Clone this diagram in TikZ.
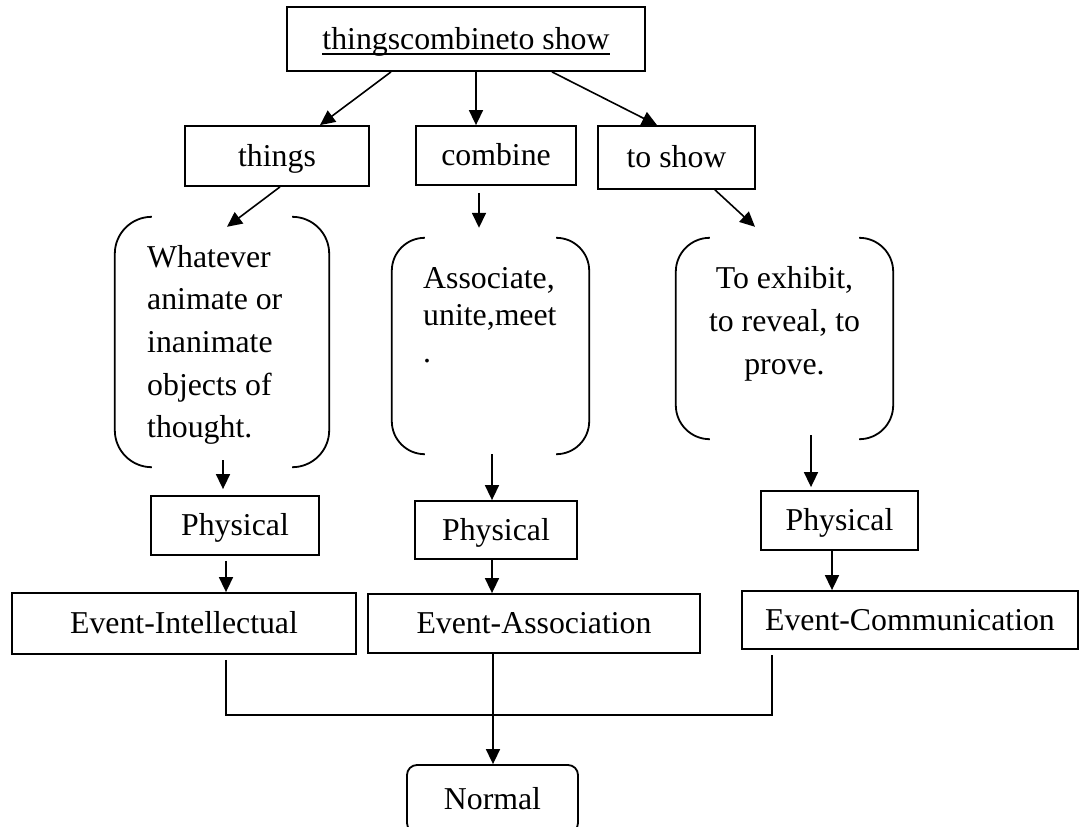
\documentclass[tikz,border=0pt]{standalone}
\usepackage{fontspec}
\setmainfont{Liberation Serif}
\usetikzlibrary{arrows.meta}

% underlined title text
\newsavebox\ulbox
\newcommand\ulinetext[1]{\sbox\ulbox{#1}\rlap{\rule[-5.8pt]{\wd\ulbox}{1.6pt}}\usebox\ulbox}

% open "bracket" frame: two rounded side pieces around a node
\newcommand\bracketpair[2]{%
  \draw[brk] ([xshift=#2]#1.north west) arc[start angle=90,end angle=180,radius=#2]
    -- ([yshift=#2]#1.south west) arc[start angle=180,end angle=270,radius=#2];
  \draw[brk] ([xshift=-#2]#1.north east) arc[start angle=90,end angle=0,radius=#2]
    -- ([yshift=#2]#1.south east) arc[start angle=0,end angle=-90,radius=#2];}

\begin{document}
\begin{tikzpicture}[x=1pt,y=-1pt,
  font=\fontsize{31.8}{38}\selectfont,
  box/.style={draw, line width=1.8pt, inner sep=0pt, text height=26pt, text depth=6pt},
  frame/.style={inner sep=0pt},
  arr/.style={line width=1.6pt, -{Triangle[length=15pt,width=14pt]}},
  wire/.style={line width=1.6pt},
  brk/.style={line width=1.8pt}]

\useasboundingbox (0,0) rectangle (1079,827);
\clip (0,0) rectangle (1079,827);

% top level
\node[box, minimum width=358pt, minimum height=64pt] (top) at (466,39) {\ulinetext{thingscombineto show}};
\node[box, minimum width=184pt, minimum height=60pt] (things) at (277,156) {things};
\node[box, minimum width=160pt, minimum height=59pt] (combine) at (496,155.5) {combine};
\node[box, minimum width=157pt, minimum height=63pt] (toshow) at (676.5,157.5) {to show};

% meaning frames
\node[frame, minimum width=214pt, minimum height=250pt] (brkA) at (222,342) {};
\node[frame, minimum width=197pt, minimum height=216pt] (brkB) at (490.5,346) {};
\node[frame, minimum width=217pt, minimum height=201pt] (brkC) at (784.5,338.5) {};
\bracketpair{brkA}{37pt}
\bracketpair{brkB}{33pt}
\bracketpair{brkC}{34pt}

\node[anchor=base west, inner sep=0pt] (tA) at (147,267)
  {\fontsize{31.8}{42.7}\selectfont\begin{tabular}[t]{@{}l@{}}Whatever\\animate or\\inanimate\\objects of\\thought.\end{tabular}};
\node[anchor=base west, inner sep=0pt] (tB) at (423,288)
  {\fontsize{31.8}{37}\selectfont\begin{tabular}[t]{@{}l@{}}Associate,\\unite,meet\\.\end{tabular}};
\node[anchor=base, inner sep=0pt] (tC) at (784.5,288)
  {\fontsize{31.8}{43}\selectfont\begin{tabular}[t]{@{}c@{}}To exhibit,\\to reveal, to\\prove.\end{tabular}};

% categories
\node[box, minimum width=168pt, minimum height=59pt] (physA) at (235,525.5) {Physical};
\node[box, minimum width=162pt, minimum height=58pt] (physB) at (496,530) {Physical};
\node[box, minimum width=157pt, minimum height=59pt] (physC) at (839.5,520.5) {Physical};

\node[box, minimum width=344pt, minimum height=61pt] (eventA) at (184,623.5) {Event-Intellectual};
\node[box, minimum width=332pt, minimum height=59pt] (eventB) at (534,623.5) {Event-Association};
\node[box, minimum width=336pt, minimum height=58pt] (eventC) at (910,620) {Event-Communication};

\node[box, rounded corners=10pt, minimum width=171pt, minimum height=68pt] (normal) at (492.5,799) {Normal};

% connectors
\draw[arr] ([xshift=-75pt]top.south) -- ([xshift=43pt]things.north);
\draw[arr] ([xshift=10pt]top.south) -- ([xshift=-20pt]combine.north);
\draw[arr] ([xshift=86pt]top.south) -- ([xshift=-19.5pt]toshow.north);

\draw[arr] ([xshift=3pt]things.south) -- ([xshift=5pt,yshift=-10pt]brkA.north);
\draw[arr] ([xshift=-17pt,yshift=-7pt]combine.south) -- ([xshift=-11.5pt,yshift=10pt]brkB.north);
\draw[arr] ([xshift=38.5pt]toshow.south) -- ([xshift=-29.5pt,yshift=11pt]brkC.north);

\draw[arr] ([xshift=1pt,yshift=7pt]brkA.south) -- ([xshift=-12pt,yshift=6pt]physA.north);
\draw[arr] ([xshift=1.5pt]brkB.south) -- ([xshift=-4pt]physB.north);
\draw[arr] ([xshift=26.5pt,yshift=4pt]brkC.south) -- ([xshift=-28.5pt,yshift=3pt]physC.north);

\draw[arr] ([xshift=-9pt,yshift=-5pt]physA.south) -- ([xshift=42pt]eventA.north);
\draw[arr] ([xshift=-4pt]physB.south) -- ([xshift=-42pt]eventB.north);
\draw[arr] ([xshift=-7.5pt]physC.south) -- ([xshift=-78pt]eventC.north);

\coordinate (join) at (493,715);
\draw[wire] ([xshift=42pt,yshift=-5pt]eventA.south) |- (join) -| ([xshift=-138pt,yshift=-5pt]eventC.south);
\draw[arr] ([xshift=-41pt]eventB.south) -- ([xshift=-41pt]eventB.south |- normal.north);

\end{tikzpicture}
\end{document}
